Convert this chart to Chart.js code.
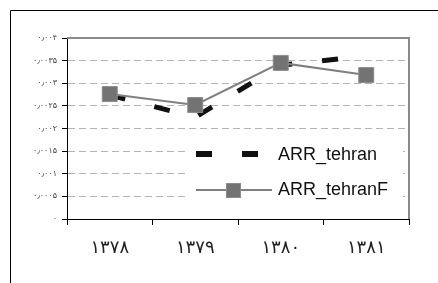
<!DOCTYPE html>
<html>
<head>
<meta charset="utf-8">
<script src="https://cdn.jsdelivr.net/npm/chart.js@4"></script>
<style>
  html, body { margin: 0; padding: 0; background: #fff; }
  #wrap { width: 438px; height: 283px; }
</style>
</head>
<body>
<div id="wrap"><canvas id="c" width="438" height="283"></canvas></div>
<script>
// سال‌ها و دو سری ARR
const categories = ["۱۳۷۸", "۱۳۷۹", "۱۳۸۰", "۱۳۸۱"];
const arrTehran = [0.00274, 0.00225, 0.00340, 0.00360];
const arrTehranF = [0.00276, 0.00252, 0.00345, 0.00318];
const yTickLabels = ["۰", "۰٫۰۰۰۵", "۰٫۰۰۱", "۰٫۰۰۱۵", "۰٫۰۰۲", "۰٫۰۰۲۵", "۰٫۰۰۳", "۰٫۰۰۳۵", "۰٫۰۰۴"];

const FONT = "Arial, 'Liberation Sans', 'DejaVu Sans', sans-serif";
Chart.defaults.font.family = FONT;

// قاب بیرونی (فقط بالا و چپ پیداست)
const outerFrame = {
  id: "outerFrame",
  beforeDraw(chart) {
    const ctx = chart.ctx;
    ctx.save();
    ctx.fillStyle = "#fff";
    ctx.fillRect(0, 0, chart.width, chart.height);
    ctx.strokeStyle = "#000";
    ctx.lineWidth = 1;
    ctx.beginPath();
    ctx.moveTo(10.5, chart.height);
    ctx.lineTo(10.5, 10.5);
    ctx.lineTo(chart.width, 10.5);
    ctx.stroke();
    ctx.restore();
  },
};

// قاب خاکستری ناحیه رسم
const plotFrame = {
  id: "plotFrame",
  beforeDatasetsDraw(chart) {
    const { ctx, chartArea: a } = chart;
    ctx.save();
    ctx.strokeStyle = "#8a8a8a";
    ctx.lineWidth = 2;
    ctx.beginPath();
    ctx.moveTo(a.left, a.top);
    ctx.lineTo(a.right, a.top);
    ctx.lineTo(a.right, a.bottom);
    ctx.stroke();
    ctx.restore();
  },
};

// راهنما داخل ناحیه رسم
const insideLegend = {
  id: "insideLegend",
  afterDatasetsDraw(chart) {
    const ctx = chart.ctx;
    ctx.save();
    ctx.fillStyle = "#fff";
    ctx.fillRect(188, 135, 215, 74);

    // نمونه خط‌چین
    ctx.fillStyle = "#111";
    ctx.fillRect(196, 151, 16, 6);
    ctx.fillRect(242, 151, 16, 6);

    // نمونه خط با مربع
    ctx.strokeStyle = "#808080";
    ctx.lineWidth = 2;
    ctx.beginPath();
    ctx.moveTo(196, 190);
    ctx.lineTo(272, 190);
    ctx.stroke();
    ctx.fillStyle = "#737373";
    ctx.strokeStyle = "#8c8c8c";
    ctx.lineWidth = 1;
    ctx.fillRect(226, 183, 15, 15);
    ctx.strokeRect(226.5, 183.5, 14, 14);

    ctx.fillStyle = "#111";
    ctx.font = "18px " + FONT;
    ctx.textBaseline = "middle";
    ctx.textAlign = "left";
    ctx.fillText("ARR_tehran", 278, 155);
    ctx.fillText("ARR_tehranF", 278, 190);
    ctx.restore();
  },
};

new Chart(document.getElementById("c"), {
  type: "line",
  data: {
    labels: categories,
    datasets: [
      {
        label: "ARR_tehran",
        data: arrTehran,
        borderColor: "#111",
        borderWidth: 5,
        borderDash: [16, 30],
        borderCapStyle: "butt",
        pointRadius: 0,
        fill: false,
        tension: 0,
        order: 2,
      },
      {
        label: "ARR_tehranF",
        data: arrTehranF,
        borderColor: "#808080",
        borderWidth: 2,
        pointStyle: "rect",
        pointRadius: 10.6,
        pointBackgroundColor: "#737373",
        pointBorderColor: "#8c8c8c",
        pointBorderWidth: 1,
        fill: false,
        tension: 0,
        order: 1,
      },
    ],
  },
  plugins: [outerFrame, plotFrame, insideLegend],
  options: {
    responsive: false,
    animation: false,
    layout: { padding: { left: 0, top: 38, right: 29, bottom: 0 } },
    plugins: {
      legend: { display: false },
      tooltip: { enabled: false },
    },
    scales: {
      x: {
        type: "category",
        offset: true,
        afterFit(scale) { scale.height = 64; },
        grid: { drawOnChartArea: false, offset: true, tickLength: 6, color: "#000" },
        border: { display: true, color: "#000", width: 1 },
        ticks: { color: "#222", padding: 13, font: { size: 18, family: "'DejaVu Sans', sans-serif" } },
      },
      y: {
        min: 0,
        max: 0.004,
        afterFit(scale) { scale.width = 67; },
        grid: { color: "#b4b4b4", tickColor: "#000", tickLength: 5 },
        border: { display: true, color: "#000", width: 1, dash: [7, 4] },
        ticks: {
          stepSize: 0.0005,
          padding: 5,
          color: "#444",
          font: { size: 8, family: "'DejaVu Sans', sans-serif" },
          callback: (v, i) => yTickLabels[i],
        },
      },
    },
  },
});
</script>
</body>
</html>
